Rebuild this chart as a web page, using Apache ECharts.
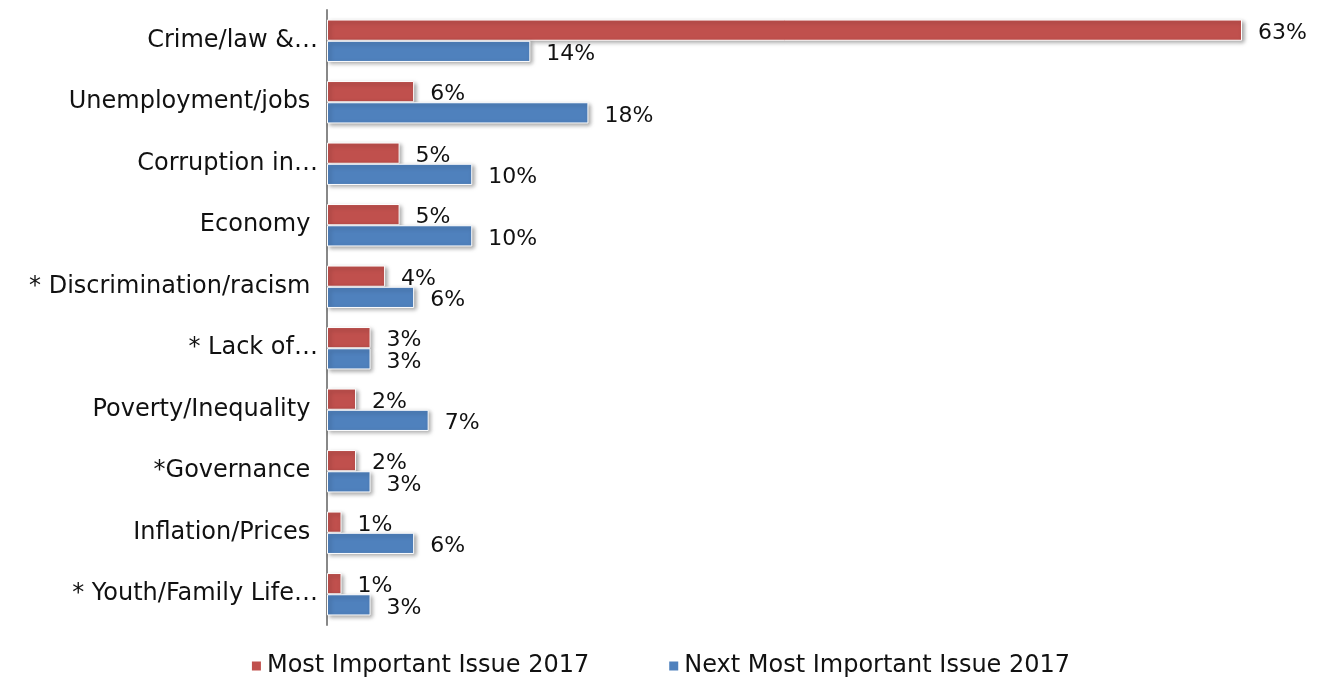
<!DOCTYPE html>
<html>
<head>
<meta charset="utf-8">
<script src="https://cdn.jsdelivr.net/npm/echarts@6/dist/echarts.min.js"></script>
<style>
  html, body { margin: 0; padding: 0; background: #fff; }
  #chart { width: 1320px; height: 685px; }
</style>
</head>
<body>
<div id="chart"></div>
<script>
// Issue categories, top to bottom
const categories = [
  'Crime/law &…',
  'Unemployment/jobs ',
  'Corruption in…',
  'Economy ',
  '* Discrimination/racism ',
  '* Lack of…',
  'Poverty/Inequality ',
  '*Governance ',
  'Inflation/Prices ',
  '* Youth/Family Life…'
];
// Percent of respondents
const mostImportant2017 = [63, 6, 5, 5, 4, 3, 2, 2, 1, 1];
const nextMostImportant2017 = [14, 18, 10, 10, 6, 3, 7, 3, 6, 3];
const seriesNames = ['Most Important Issue 2017', 'Next Most Important Issue 2017'];

const FONT = 'DejaVu Sans';
const barStyle = (color) => ({
  color: color,
  borderColor: '#ffffff',
  borderWidth: 1,
  shadowColor: 'rgba(0,0,0,0.35)',
  shadowBlur: 4,
  shadowOffsetX: 2,
  shadowOffsetY: 2
});
const valueLabel = {
  show: true,
  position: 'right',
  distance: 16,
  offset: [0, 3],
  formatter: '{c}%',
  color: '#111',
  fontFamily: FONT,
  fontSize: 22
};

const chart = echarts.init(document.getElementById('chart'));
chart.setOption({
  animation: false,
  textStyle: { fontFamily: FONT },
  grid: { left: 327, right: 78, top: 10, bottom: 60, containLabel: false },
  legend: {
    bottom: 2,
    left: 'center',
    itemWidth: 11,
    itemHeight: 11,
    itemGap: 78,
    icon: 'rect',
    textStyle: { fontFamily: FONT, fontSize: 24, color: '#111' },
    data: seriesNames
  },
  xAxis: {
    type: 'value',
    min: 0,
    max: 63,
    show: false
  },
  yAxis: {
    type: 'category',
    inverse: true,
    data: categories,
    axisLine: { show: true, lineStyle: { color: '#888', width: 2 } },
    axisTick: { show: false },
    axisLabel: { fontFamily: FONT, fontSize: 24, color: '#111', margin: 9 },
    splitLine: { show: false }
  },
  series: [
    {
      name: seriesNames[0],
      type: 'bar',
      data: mostImportant2017,
      barGap: '0%',
      barCategoryGap: '31%',
      itemStyle: barStyle('#C0504D'),
      label: valueLabel
    },
    {
      name: seriesNames[1],
      type: 'bar',
      data: nextMostImportant2017,
      itemStyle: barStyle('#4F81BD'),
      label: valueLabel
    }
  ]
});
</script>
</body>
</html>
